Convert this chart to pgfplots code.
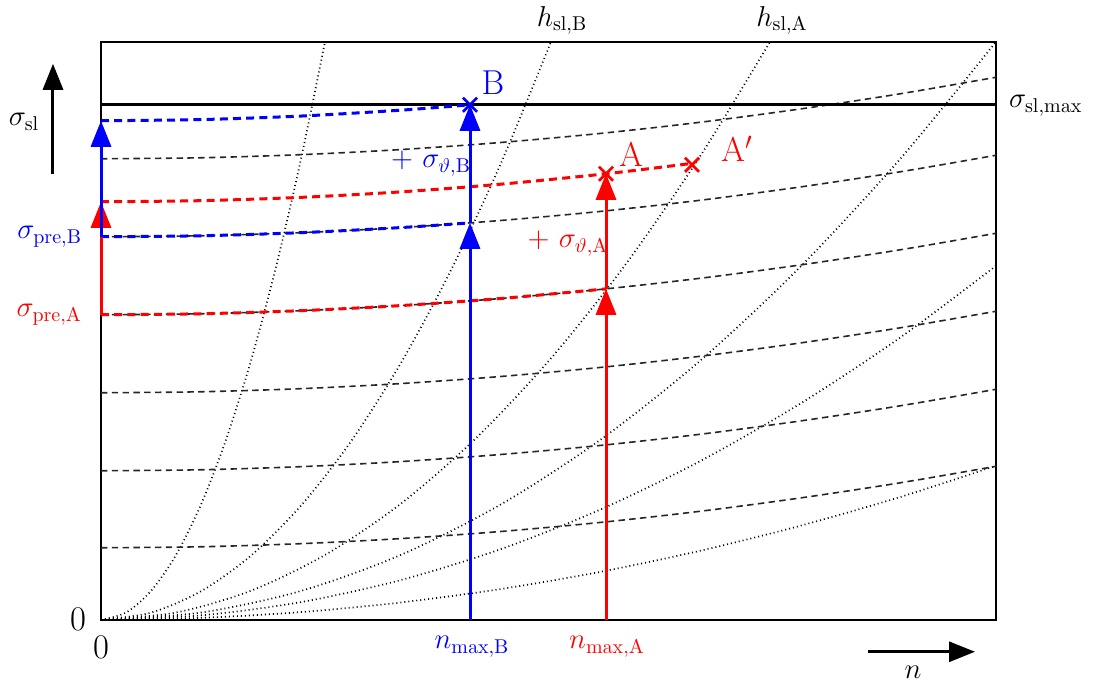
\documentclass[border=0pt]{standalone}
\usepackage{pgfplots}
\pgfplotsset{compat=1.18}
\usetikzlibrary{arrows.meta}
\definecolor{cblue}{RGB}{0,0,255}
\definecolor{cred}{RGB}{255,0,0}
\begin{document}
\begin{tikzpicture}
\begin{axis}[
  scale only axis, width=447.5pt, height=289pt,
  xmin=0, xmax=895, ymin=0, ymax=578,
  axis line style={line width=1pt},
  xtick=\empty, ytick=\empty, clip=false,
  dotc/.style={black, line width=0.85pt, dash pattern=on 0.5pt off 1.5pt, smooth},
  dashc/.style={black!85, line width=0.8pt, dash pattern=on 3.2pt off 2.2pt, smooth},
  cdash/.style={line width=1.5pt, dash pattern=on 4pt off 2.6pt, smooth},
  arr/.style={line width=1.5pt, -{Triangle[length=13pt,width=10pt]}},
]
% dotted curves
\addplot[dotc] coordinates {(0,0)(25,7.2)(50,28.8)(75,64.8)(100,115.2)(125,180)(150,259.2)(175,352.8)(200,460.8)(224,578)};
\addplot[dotc] coordinates {(0,0)(50,7.14)(100,28.54)(150,64.22)(200,114.17)(250,178.39)(300,256.89)(350,349.65)(400,456.69)(450,578)};
\addplot[dotc] coordinates {(0,0)(75,7.26)(150,29.06)(225,65.38)(300,116.2)(375,181.6)(450,261.5)(525,355.9)(600,464.9)(669,578)};
\addplot[dotc] coordinates {(0,0)(100,7.22)(200,28.86)(300,64.94)(400,115.45)(500,180.4)(600,259.8)(700,353.6)(800,461.8)(895,578)};
\addplot[dotc] coordinates {(0,0)(100,4.42)(200,17.68)(300,39.77)(400,70.71)(500,110.5)(600,159.1)(700,216.6)(800,282.8)(895,354)};
\addplot[dotc] coordinates {(0,0)(100,1.92)(200,7.69)(300,17.30)(400,30.76)(500,48.06)(600,69.21)(700,94.20)(800,123.0)(895,154)};
% dashed curves
\addplot[dashc] coordinates {(0,461)(100,462.0)(200,465.1)(300,470.2)(400,477.3)(500,486.4)(600,497.6)(700,510.9)(800,526.1)(895,542.5)};
\addplot[dashc] coordinates {(0,383)(100,384.0)(200,387.1)(300,392.2)(400,399.3)(500,408.4)(600,419.6)(700,432.9)(800,448.1)(895,464.5)};
\addplot[dashc] coordinates {(0,305)(100,306.0)(200,309.1)(300,314.2)(400,321.3)(500,330.4)(600,341.6)(700,354.9)(800,370.1)(895,386.5)};
\addplot[dashc] coordinates {(0,227)(100,228.0)(200,231.1)(300,236.2)(400,243.3)(500,252.4)(600,263.6)(700,276.9)(800,292.1)(895,308.5)};
\addplot[dashc] coordinates {(0,149)(100,150.0)(200,153.1)(300,158.2)(400,165.3)(500,174.4)(600,185.6)(700,198.9)(800,214.1)(895,230.5)};
\addplot[dashc] coordinates {(0,72)(100,73.0)(200,76.1)(300,81.2)(400,88.3)(500,97.4)(600,108.6)(700,121.9)(800,137.1)(895,153.5)};
% sigma_sl,max
\addplot[black, line width=1.5pt] coordinates {(0,515)(895,515)};
% coloured dashed
\addplot[cdash, cblue] coordinates {(0,499)(100,500.2)(200,503.7)(300,509.6)(369,515)};
\addplot[cdash, cblue] coordinates {(0,383)(100,384.0)(200,387.1)(300,392.2)(369,396.9)};
\addplot[cdash, cred] coordinates {(0,418)(100,419.1)(200,422.4)(300,427.9)(400,435.6)(505,446)(591,456.4)};
\addplot[cdash, cred] coordinates {(0,305)(100,306.0)(200,309.1)(300,314.2)(400,321.3)(505,330.9)};
% vertical arrows
\addplot[arr, cred] coordinates {(0,305)(0,418)};
\addplot[arr, cblue] coordinates {(0,383)(0,499)};
\addplot[arr, cblue] coordinates {(369,0)(369,397)};
\addplot[arr, cblue] coordinates {(369,397)(369,515)};
\addplot[arr, cred] coordinates {(505,0)(505,331)};
\addplot[arr, cred] coordinates {(505,331)(505,446)};
% crosses
\addplot[only marks, mark=x, mark size=5pt, cblue, line width=1.4pt] coordinates {(369,515)};
\addplot[only marks, mark=x, mark size=5pt, cred, line width=1.4pt] coordinates {(505,446)(591,455)};
% labels
\node[cblue, font=\LARGE] at (axis cs:392,537) {B};
\node[cred, font=\LARGE] at (axis cs:530,465) {A};
\node[cred, font=\LARGE] at (axis cs:636,471) {A$'$};
\node[cblue, font=\Large] at (axis cs:330,456) {$+\ \sigma_{\vartheta,\mathrm{B}}$};
\node[cred, font=\Large] at (axis cs:467,376) {$+\ \sigma_{\vartheta,\mathrm{A}}$};
\node[font=\Large] at (axis cs:461,599) {$h_{\mathrm{sl,B}}$};
\node[font=\Large] at (axis cs:681,599) {$h_{\mathrm{sl,A}}$};
\node[font=\Large, anchor=west] at (axis cs:901,514) {$\sigma_{\mathrm{sl,max}}$};
\node[font=\Large] at (axis cs:-77,498) {$\sigma_{\mathrm{sl}}$};
\node[cblue, font=\Large, anchor=east] at (axis cs:-12,383) {$\sigma_{\mathrm{pre,B}}$};
\node[cred, font=\Large, anchor=east] at (axis cs:-12,305) {$\sigma_{\mathrm{pre,A}}$};
\node[font=\LARGE] at (axis cs:-23,0) {0};
\node[font=\LARGE] at (axis cs:0,-28) {0};
\node[cblue, font=\Large] at (axis cs:371,-27) {$n_{\mathrm{max,B}}$};
\node[cred, font=\Large] at (axis cs:506,-27) {$n_{\mathrm{max,A}}$};
\node[font=\Large] at (axis cs:812,-53) {$n$};
\draw[line width=1.5pt, -{Triangle[length=13pt,width=10pt]}] (axis cs:-48,446) -- (axis cs:-48,556);
\draw[line width=1.5pt, -{Triangle[length=13pt,width=10pt]}] (axis cs:767,-32) -- (axis cs:874,-32);
\path (axis cs:-101,-66) rectangle (axis cs:994,618);
\end{axis}
\end{tikzpicture}
\end{document}
